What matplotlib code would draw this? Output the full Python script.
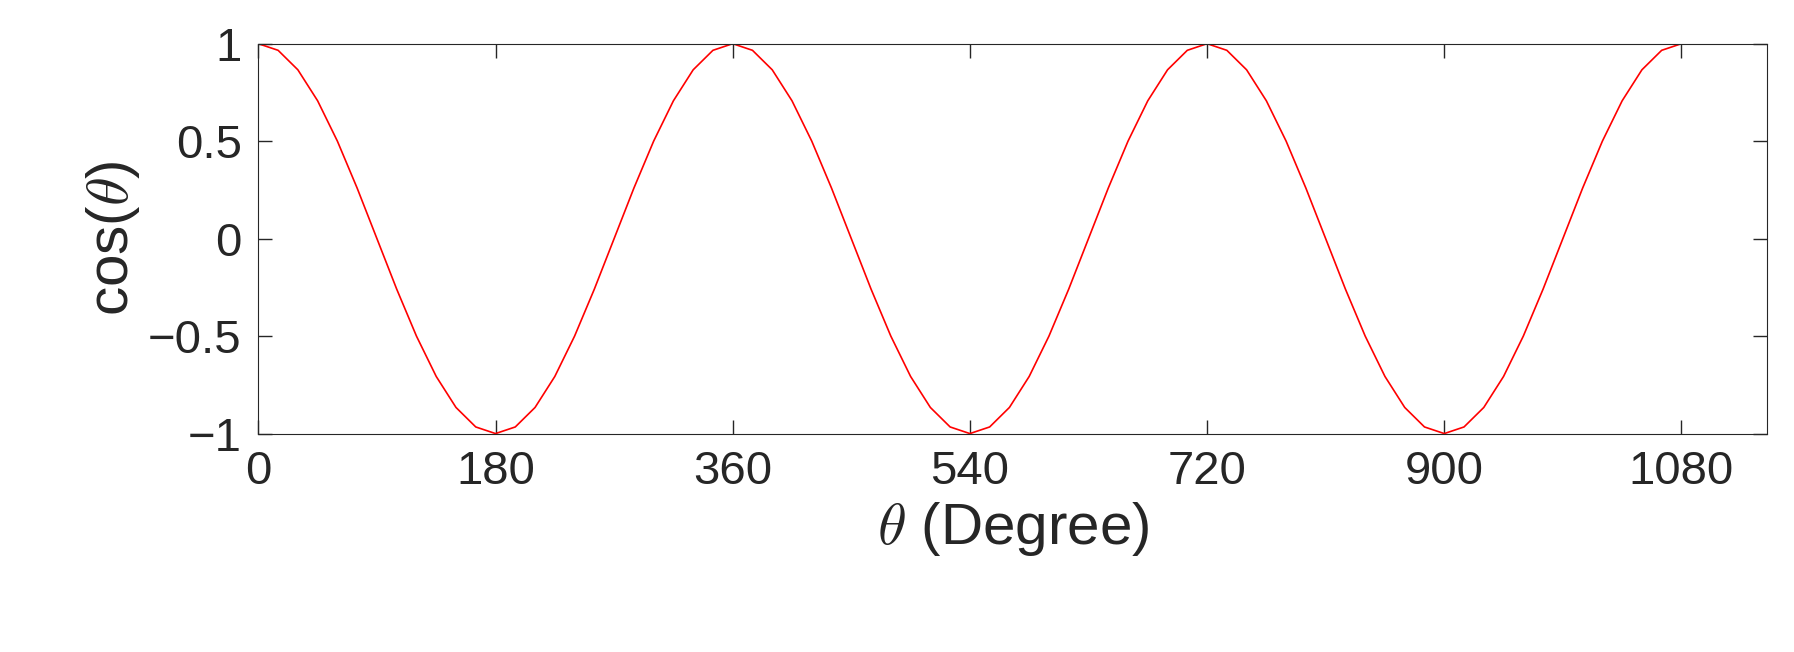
import matplotlib
matplotlib.use('Agg')
from matplotlib import pyplot as plt

plt.rcParams['font.family'] = ['Liberation Sans', 'DejaVu Sans']
plt.rcParams['mathtext.fontset'] = 'cm'

theta = list(range(0, 1081, 15))
one_cycle = [1.0, 0.966, 0.866, 0.707, 0.5, 0.259, 0.0, -0.259, -0.5, -0.707, -0.866, -0.966,
             -1.0, -0.966, -0.866, -0.707, -0.5, -0.259, 0.0, 0.259, 0.5, 0.707, 0.866, 0.966]
cos_vals = one_cycle * 3 + [1.0]
xticks = [0, 180, 360, 540, 720, 900, 1080]
yticks = [-1, -0.5, 0, 0.5, 1]
ytick_labels = ['\u22121', '\u22120.5', '0', '0.5', '1']

fig = plt.figure(figsize=(17.94, 6.52), dpi=100)
ax = fig.add_axes([0.144, 0.335, 0.841, 0.598])
ax.plot(theta, cos_vals, '-', c='red', lw=1.2)
ax.set_xlim(0, 1145)
ax.set_ylim(-1, 1)
ax.set_xticks(xticks)
ax.set_yticks(yticks, ytick_labels)
ax.tick_params(labelsize=34, direction='in', length=10, width=1, top=True, right=True, pad=12, colors='#262626')
for s in ax.spines.values():
    s.set_color('#262626')
ax.set_xlabel(r'$\theta$ (Degree)', fontsize=42, color='#262626')
ax.set_ylabel(r'cos($\theta$)', fontsize=42, color='#262626')
fig.savefig('out.png', dpi=100)
